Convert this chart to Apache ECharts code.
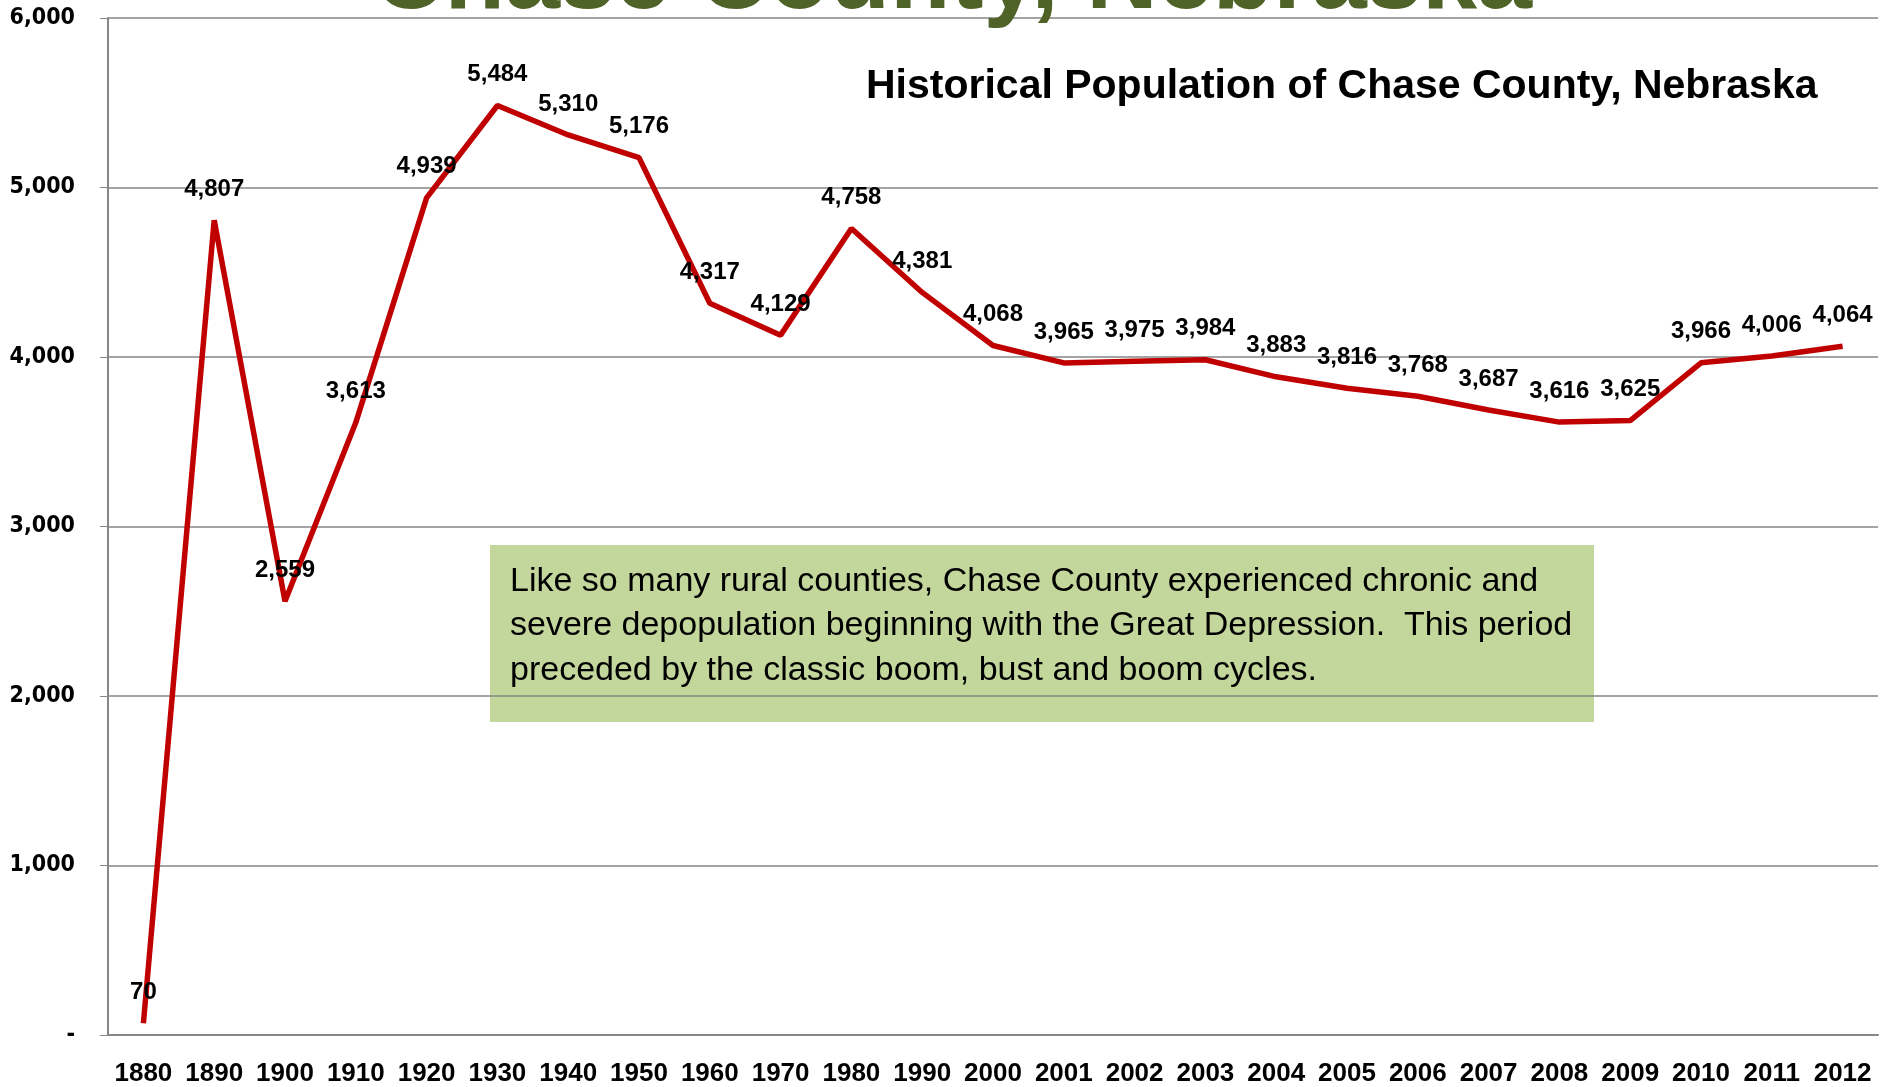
<!DOCTYPE html>
<html><head><meta charset="utf-8">
<script src="https://cdn.jsdelivr.net/npm/echarts@6/dist/echarts.min.js"></script>
<style>html,body{margin:0;padding:0;background:#fff;}#c{width:1889px;height:1087px;}</style>
</head><body><div id="c"></div>
<script>
const categories = ['1880','1890','1900','1910','1920','1930','1940','1950','1960','1970','1980','1990','2000','2001','2002','2003','2004','2005','2006','2007','2008','2009','2010','2011','2012'];
const population = [70,4807,2559,3613,4939,5484,5310,5176,4317,4129,4758,4381,4068,3965,3975,3984,3883,3816,3768,3687,3616,3625,3966,4006,4064];
const yTicks = {min:0, max:6000, interval:1000};
const chartTitle = 'Historical Population of Chase County, Nebraska';
const bannerTitle = 'Chase County, Nebraska';
const noteLines = ['Like so many rural counties, Chase County experienced chronic and','severe depopulation beginning with the Great Depression.  This period','preceded by the classic boom, bust and boom cycles.'];

const SANS = '"Liberation Sans", Arial, sans-serif';
const chart = echarts.init(document.getElementById('c'));
const fmt = v => v === 0 ? '-' : v.toLocaleString('en-US');
chart.setOption({
  animation:false,
  backgroundColor:'#ffffff',
  title:{text:chartTitle,left:861,top:61,textStyle:{fontFamily:SANS,fontWeight:'bold',fontSize:41,color:'#000'}},
  grid:{left:108,right:11,top:18,bottom:52,containLabel:false},
  xAxis:{type:'category',data:categories,boundaryGap:true,
    axisLine:{lineStyle:{color:'#868686',width:2}},
    axisTick:{alignWithLabel:true,length:10,lineStyle:{color:'#868686',width:1.5}},
    axisLabel:{interval:0,margin:26,fontFamily:SANS,fontWeight:'bold',fontSize:26,color:'#000'}},
  yAxis:{type:'value',min:yTicks.min,max:yTicks.max,interval:yTicks.interval,
    axisLine:{show:true,lineStyle:{color:'#868686',width:2}},
    axisTick:{show:true,length:8,lineStyle:{color:'#868686'}},
    splitLine:{lineStyle:{color:'#868686',width:1.5}},
    axisLabel:{formatter:fmt,margin:33,fontFamily:'"DejaVu Sans Condensed", "DejaVu Sans", sans-serif',fontWeight:'bold',fontSize:23,color:'#000'}},
  series:[{type:'line',data:population,symbol:'circle',symbolSize:2,showSymbol:true,
    itemStyle:{color:'rgba(192,0,0,0)',borderWidth:0},
    lineStyle:{color:'#C00000',width:5.5},
    label:{show:true,position:'top',distance:18,offset:[3,0],formatter:p=>fmt(p.value),fontFamily:SANS,fontWeight:'bold',fontSize:24,color:'#000'},
    labelLayout:{hideOverlap:false}}],
  graphic:[
    {type:'text',left:373,top:-69,z:100,style:{text:bannerTitle,fontFamily:SANS,fontWeight:'bold',fontSize:99,fill:'#4F6228'}},
    {type:'group',left:490,top:545,z:50,children:[
      {type:'rect',shape:{x:0,y:0,width:1104,height:177},style:{fill:'#C3D69B'}},
      {type:'text',x:20,y:14,style:{text:noteLines.join('\n'),fontFamily:SANS,fontSize:34,lineHeight:44.5,fill:'#000'}}
    ]}
  ]
});
</script></body></html>
